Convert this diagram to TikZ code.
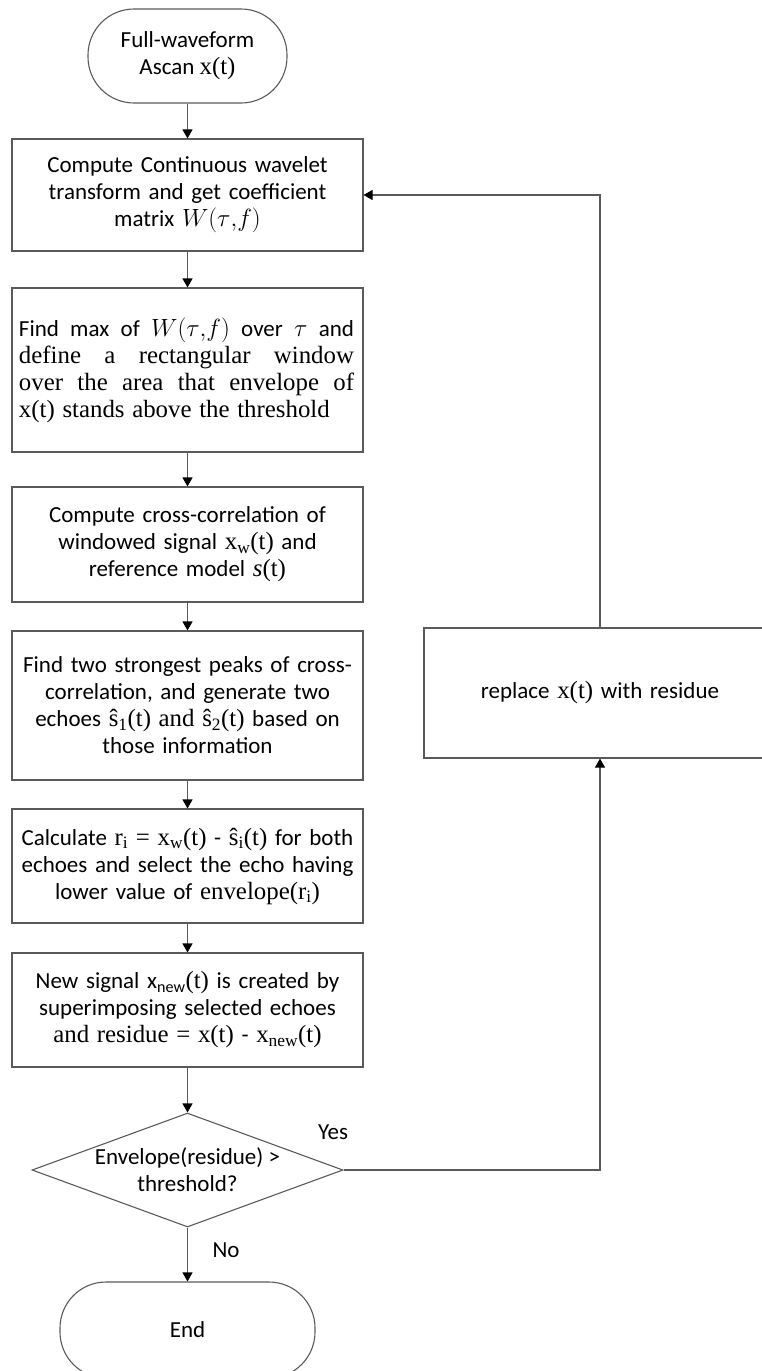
\documentclass[tikz,border=0pt]{standalone}
\usepackage{amssymb,amsmath}
\usepackage[no-math]{fontspec}
\setmainfont{Carlito}
\newfontfamily\seriftext{Liberation Serif}[Scale=1.08]
\usetikzlibrary{shapes.geometric,arrows.meta}
\definecolor{linegray}{RGB}{90,90,90}
\newcommand{\sv}[1]{{\seriftext #1}}
\newcommand{\fillline}[1]{\makebox[335pt][s]{\spaceskip=.25em plus 1fil\relax#1}}

\begin{document}
\begin{tikzpicture}[x=1pt,y=1pt,yscale=-1,xscale=1,
  font=\fontsize{23}{27}\selectfont,
  every node/.style={inner sep=0.75pt},
  procbox/.style={draw=linegray,line width=1.1,rectangle,minimum width=351,text width=337,align=center},
  termbox/.style={draw=linegray,line width=1.1,rectangle,rounded corners=46},
  decbox/.style={draw=linegray,line width=1.1,diamond,minimum width=311,minimum height=114,inner sep=0},
  flow/.style={draw=linegray,line width=1.1,-{Triangle[width=10pt,length=9pt,color=black]}}]
\useasboundingbox (0,0) rectangle (761,1371);

% Terminals
\node [termbox,minimum width=199,minimum height=94,align=center] (start) at (187.5,56) {Full-waveform\\Ascan \sv{x(t)}};
\node [termbox,minimum width=255,minimum height=96] (stop) at (187.5,1330) {End};

% Process boxes
\node [procbox,minimum height=112] (cwt) at (187.5,195) {Compute Continuous wavelet\\transform and get coefficient\\matrix $W(\tau{,}f)$};
\node [procbox,minimum height=164,align=left] (win) at (187.5,370) {\fillline{Find max of $W(\tau{,}f)$ over $\tau$ and}\\ \seriftext\fillline{define a rectangular window}\\ \fillline{over the area that envelope of}\\ x(t) stands above the threshold};
\node [procbox,minimum height=115] (xcorr) at (187.5,544.5) {Compute cross-correlation of\\windowed signal \sv{x\textsubscript{w}(t)} and\\reference model \sv{\textit{s}(t)}};
\node [procbox,minimum height=149] (peaks) at (187.5,705.5) {Find two strongest peaks of cross-\\correlation, and generate two\\echoes \sv{ŝ\textsubscript{1}(t) and ŝ\textsubscript{2}(t)} based on\\those information};
\node [procbox,minimum height=114] (resid) at (187.5,866) {Calculate \sv{r\textsubscript{i} = x\textsubscript{w}(t)} - \sv{ŝ\textsubscript{i}(t)} for both\\echoes and select the echo having\\lower value of \sv{envelope(r\textsubscript{i})}};
\node [procbox,minimum height=114] (newsig) at (187.5,1010) {New signal x\textsubscript{new}\sv{(t)} is created by\\superimposing selected echoes\\\sv{and residue = x(t)} - \sv{x\textsubscript{new}(t)}};
\node [procbox,minimum height=130,minimum width=352] (repl) at (600,693) {replace \sv{x(t)} with residue};

% Decision
\node [decbox] (check) at (187.5,1170) {};
\node [align=center] (checktext) at (check.center) {Envelope(residue) >\\threshold?};

% Labels
\node (yes) at (333,1132) {Yes};
\node (no) at (226,1250) {No};

% Connectors
\draw [flow] (start) -- (cwt);
\draw [flow] (cwt) -- (win);
\draw [flow] (win) -- (xcorr);
\draw [flow] (xcorr) -- (peaks);
\draw [flow] (peaks) -- (resid);
\draw [flow] (resid) -- (newsig);
\draw [flow] (newsig) -- (check);
\draw [flow] (check) -- (stop);
\draw [flow] (check.east) -| (repl.south);
\draw [flow] (repl.north) |- (cwt.east);

\end{tikzpicture}
\end{document}
